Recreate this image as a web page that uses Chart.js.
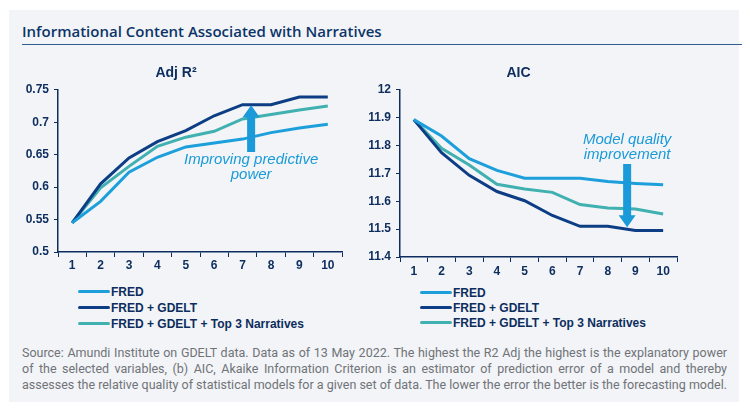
<!DOCTYPE html>
<html>
<head>
<meta charset="utf-8">
<script src="https://cdn.jsdelivr.net/npm/chart.js@4"></script>
<style>
  html, body { margin: 0; padding: 0; background: #ffffff; }
  body { width: 750px; height: 417px; position: relative; overflow: hidden; font-family: "Liberation Sans", Arial, sans-serif; }
  .panel { position: absolute; left: 9px; top: 10px; width: 730px; height: 392px; background: #f2f4f7; }
  .title { position: absolute; left: 22px; top: 21px; font-family: "Open Sans", sans-serif; font-weight: 600; font-size: 15px; color: #0d3468; white-space: nowrap; }
  .rule { position: absolute; left: 22px; top: 44px; width: 720px; height: 1px; background: #2f5d91; }
  .box { position: absolute; }
  .legend { position: absolute; font-weight: bold; font-size: 12px; color: #0d2d5e; }
  .legend .row { position: absolute; left: 0; white-space: nowrap; height: 14px; line-height: 14px; }
  .legend .sw { display: inline-block; width: 32px; height: 3px; border-radius: 2px; vertical-align: middle; margin-right: 1px; position: relative; top: -1px; }
  .source { position: absolute; left: 22px; top: 345px; width: 705px; font-family: "Roboto", sans-serif; font-size: 12.5px; line-height: 16px; color: #707377; }
  .source div { white-space: nowrap; text-align: justify; text-align-last: justify; }
</style>
</head>
<body>
<div class="panel"></div>
<div class="title">Informational Content Associated with Narratives</div>
<div class="rule"></div>
<div class="box" style="left:10px; top:55px; width:350px; height:225px;"><canvas id="r2Chart"></canvas></div>
<div class="box" style="left:360px; top:55px; width:330px; height:227px;"><canvas id="aicChart"></canvas></div>
<div class="legend" id="legendLeft" style="left:78px; top:285px;"></div>
<div class="legend" id="legendRight" style="left:420px; top:286px;"></div>
<div class="source">
  <div>Source: Amundi Institute on GDELT data. Data as of 13 May 2022. The highest the R2 Adj the highest is the explanatory power</div>
  <div>of the selected variables, (b) AIC, Akaike Information Criterion is an estimator of prediction error of a model and thereby</div>
  <div>assesses the relative quality of statistical models for a given set of data. The lower the error the better is the forecasting model.</div>
</div>

<script>
// Data
const steps = ['1', '2', '3', '4', '5', '6', '7', '8', '9', '10'];
const seriesNames = ['FRED', 'FRED + GDELT', 'FRED + GDELT + Top 3 Narratives'];
const seriesColors = ['#1d9fdb', '#0d3d84', '#40b1b0'];

const r2Fred   = [0.545, 0.578, 0.623, 0.646, 0.662, 0.668, 0.674, 0.684, 0.691, 0.697];
const r2Gdelt  = [0.545, 0.605, 0.645, 0.670, 0.687, 0.710, 0.727, 0.727, 0.739, 0.739];
const r2Top3   = [0.545, 0.599, 0.632, 0.663, 0.677, 0.686, 0.705, 0.712, 0.719, 0.725];
const r2Ticks  = [0.5, 0.55, 0.6, 0.65, 0.7, 0.75];

const aicFred  = [11.893, 11.834, 11.753, 11.711, 11.683, 11.683, 11.683, 11.671, 11.664, 11.659];
const aicGdelt = [11.893, 11.774, 11.693, 11.635, 11.602, 11.549, 11.510, 11.510, 11.495, 11.495];
const aicTop3  = [11.893, 11.790, 11.730, 11.661, 11.644, 11.632, 11.588, 11.576, 11.572, 11.554];
const aicTicks = [11.4, 11.5, 11.6, 11.7, 11.8, 11.9, 12];

// Annotation arrows: category index position, value at tail, value at head
const r2Arrow  = { x: 6.3, from: 0.654, to: 0.726, text: ['Improving predictive', 'power'], textAt: 0.642 };
const aicArrow = { x: 7.7, from: 11.734, to: 11.507, text: ['Model quality', 'improvement'], textAt: 11.82 };

const navy = '#0d2d5e';
const arrowBlue = '#1a9ad8';

function buildLegend(id, gaps) {
    const el = document.getElementById(id);
    let y = 0;
    seriesNames.forEach((name, i) => {
        const row = document.createElement('div');
        row.className = 'row';
        row.style.top = y + 'px';
        row.innerHTML = `<span class="sw" style="background:${seriesColors[i]}"></span>${name}`;
        el.appendChild(row);
        y += gaps;
    });
}
buildLegend('legendLeft', 16);
buildLegend('legendRight', 15);

const arrowPlugin = {
    id: 'arrowNote',
    afterDatasetsDraw(chart, args, opts) {
        const a = opts.arrow;
        if (!a) return;
        const { ctx, scales } = chart;
        const x = scales.x.getPixelForValue(a.x);
        const y0 = scales.y.getPixelForValue(a.from);
        const y1 = scales.y.getPixelForValue(a.to);
        const dir = y1 < y0 ? -1 : 1;
        const head = 12;
        ctx.save();
        ctx.fillStyle = arrowBlue;
        ctx.beginPath();
        ctx.moveTo(x - 4, y0);
        ctx.lineTo(x + 4, y0);
        ctx.lineTo(x + 4, y1 - dir * head);
        ctx.lineTo(x + 8.5, y1 - dir * head);
        ctx.lineTo(x, y1);
        ctx.lineTo(x - 8.5, y1 - dir * head);
        ctx.lineTo(x - 4, y1 - dir * head);
        ctx.closePath();
        ctx.fill();
        ctx.font = 'italic 15px "Liberation Sans", Arial, sans-serif';
        ctx.textAlign = 'center';
        ctx.textBaseline = 'middle';
        const ty = scales.y.getPixelForValue(a.textAt);
        a.text.forEach((t, i) => ctx.fillText(t, x, ty + i * 15));
        ctx.restore();
    }
};

function makeChart(id, title, values, ticks, min, max, yWidth, arrow, pad, xPad) {
    const ctx = document.getElementById(id).getContext('2d');
    return new Chart(ctx, {
        type: 'line',
        data: {
            labels: steps,
            datasets: values.map((v, i) => ({
                label: seriesNames[i],
                data: v,
                borderColor: seriesColors[i],
                backgroundColor: seriesColors[i],
                borderWidth: 3,
                pointRadius: 0,
                tension: 0,
                fill: false
            }))
        },
        options: {
            responsive: true,
            maintainAspectRatio: false,
            animation: false,
            layout: { padding: pad },
            plugins: {
                legend: { display: false },
                tooltip: { enabled: false },
                title: {
                    display: true,
                    text: title,
                    color: navy,
                    font: { family: '"Liberation Sans", Arial, sans-serif', size: 14, weight: 'bold' },
                    padding: { top: 10, bottom: 8 }
                },
                arrowNote: { arrow }
            },
            scales: {
                x: {
                    offset: true,
                    grid: { offset: true, drawOnChartArea: false, drawTicks: true, tickLength: 5, color: navy, lineWidth: 1 },
                    border: { color: navy, width: 1.5 },
                    ticks: { color: navy, padding: xPad, font: { family: '"Liberation Sans", Arial, sans-serif', size: 12, weight: 'bold' }, maxRotation: 0 },
                    afterFit: s => { s.height = 22; }
                },
                y: {
                    min: min,
                    max: max,
                    afterBuildTicks: s => { s.ticks = ticks.map(v => ({ value: v })); },
                    grid: { drawOnChartArea: false, drawTicks: true, tickLength: 4, color: navy },
                    border: { color: navy, width: 1.5 },
                    ticks: { color: navy, padding: 5, font: { family: '"Liberation Sans", Arial, sans-serif', size: 12, weight: 'bold' }, callback: v => String(v) },
                    afterFit: s => { s.width = yWidth; }
                }
            }
        },
        plugins: [arrowPlugin]
    });
}

makeChart('r2Chart', 'Adj R\u00b2', [r2Fred, r2Gdelt, r2Top3], r2Ticks, 0.5, 0.75, 48, r2Arrow,
    { left: 0, right: 18, top: 0, bottom: 6 }, 1);
makeChart('aicChart', 'AIC', [aicFred, aicGdelt, aicTop3], aicTicks, 11.4, 12, 40, aicArrow,
    { left: 0, right: 13, top: 0, bottom: 3 }, 2);
</script>
</body>
</html>
